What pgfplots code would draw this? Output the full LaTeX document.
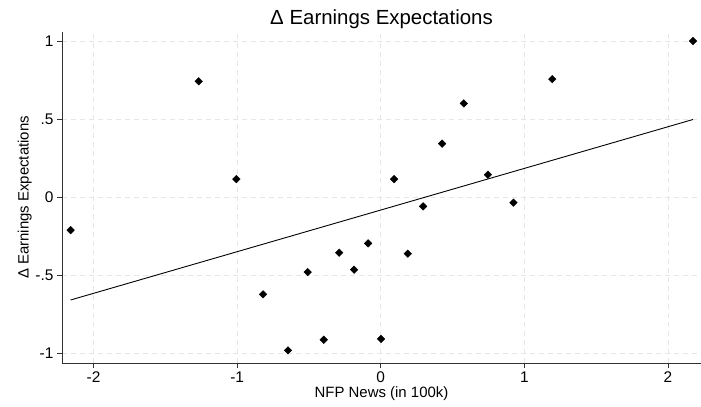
\documentclass[border=0pt]{standalone}
\usepackage{pgfplots}
\pgfplotsset{compat=1.18}
\usepackage{fontspec}
\setmainfont{Liberation Sans}
\definecolor{gridgray}{HTML}{E6E6E6}
\definecolor{axgray}{HTML}{333333}

\pgfplotstableread{
x y
-2.160 -0.212
-1.268 0.742
-1.006 0.115
-0.820 -0.624
-0.646 -0.983
-0.509 -0.481
-0.397 -0.915
-0.290 -0.357
-0.186 -0.466
-0.088 -0.297
0.002 -0.910
0.093 0.115
0.188 -0.363
0.295 -0.060
0.427 0.342
0.578 0.600
0.746 0.143
0.924 -0.036
1.194 0.756
2.174 1.000
}\news

\begin{document}
\begin{tikzpicture}
\begin{axis}[
    name=ax,
    scale only axis,
    width=639bp, height=331bp,
    xmin=-2.22, xmax=2.23,
    ymin=-1.064, ymax=1.058,
    axis lines=left,
    axis line style={axgray, line width=0.8pt, -},
    xtick={-2,-1,0,1,2},
    xticklabels={-2,-1,0,1,2},
    ytick={-1,-0.5,0,0.5,1},
    yticklabels={-1,-.5,0,.5,1},
    tick align=outside,
    major tick length=5bp,
    tick style={axgray, line width=0.8pt},
    ticklabel style={font=\fontsize{15.5}{16}\selectfont},
    grid=major,
    major grid style={gridgray, line width=0.8pt, dash pattern=on 5bp off 4bp},
    title={Δ Earnings Expectations},
    title style={font=\fontsize{20.5}{21}\selectfont, yshift=-6bp},
    xlabel={NFP News (in 100k)},
    ylabel={Δ Earnings Expectations},
    label style={font=\fontsize{15}{15}\selectfont},
    xlabel style={yshift=3bp},
    ylabel style={yshift=-3bp},
]
\addplot[only marks, mark=square*, mark size=2.7pt,
    mark options={rotate=45, fill=black, draw=black}] table {\news};
\addplot[black, line width=0.9pt, no marks] coordinates {
  (-2.160, -0.660)
  (2.174, 0.497)
};
\end{axis}
\pgfresetboundingbox
\path[use as bounding box] ([xshift=-62bp,yshift=-44bp]ax.south west)
    rectangle ([yshift=32bp]ax.north east);
\end{tikzpicture}
\end{document}
